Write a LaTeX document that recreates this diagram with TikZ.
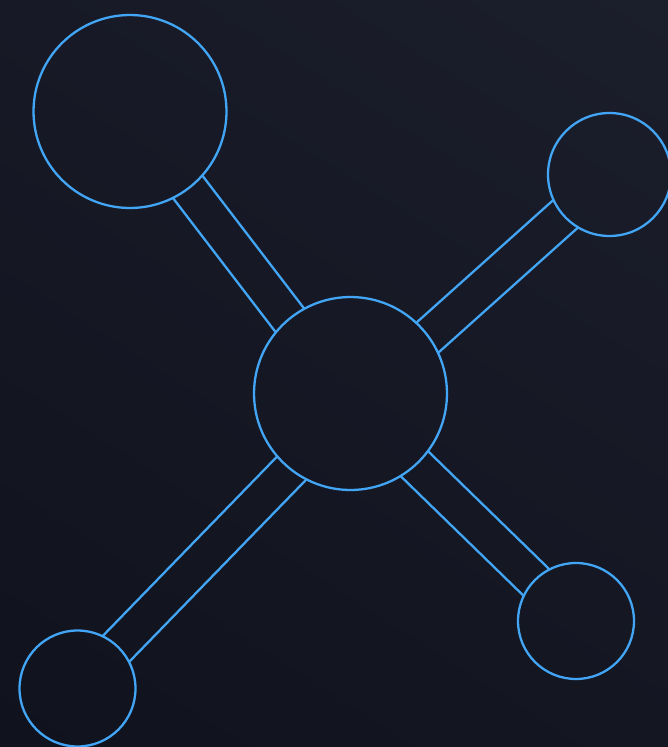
\documentclass[tikz,border=0pt]{standalone}
\usepackage{tikz}
\usetikzlibrary{calc,shadings}
\definecolor{bondblue}{HTML}{42A5F5}
\definecolor{bgUL}{HTML}{171A26}
\definecolor{bgUR}{HTML}{1B1E2B}
\definecolor{bgLL}{HTML}{10131D}
\definecolor{bgLR}{HTML}{141722}
\pgfdeclarelayer{bg}\pgfdeclarelayer{bonds}
\pgfsetlayers{bg,bonds,main}
\begin{document}
\begin{tikzpicture}[x=0.02cm,y=-0.02cm,
 atom/.style={circle,draw=bondblue,line width=1.3pt,inner sep=0pt,outer sep=0pt},
 bond/.style={draw=bondblue,line width=1.3pt}]
\useasboundingbox (0,0) rectangle (668,747);
\begin{pgfonlayer}{bg}
\shade[upper left=bgUL,upper right=bgUR,lower left=bgLL,lower right=bgLR] (0,0) rectangle (668,747);
\end{pgfonlayer}
\node[atom,minimum size=3.86cm](hub) at (350.5,393.5){};
\node[atom,minimum size=3.86cm](tl) at (130,111.5){};
\node[atom,minimum size=2.46cm](tr) at (609.5,174.5){};
\node[atom,minimum size=2.32cm](br) at (576,621){};
\node[atom,minimum size=2.32cm](bl) at (77.5,688.5){};
\begin{pgfonlayer}{bonds}
\begin{scope}[even odd rule]
% bonds stop at the circle rims
\clip(-20,-20) rectangle (700,770)
 (hub) circle[radius=96.5] (tl) circle[radius=96.5] (tr) circle[radius=61.5]
 (br) circle[radius=58] (bl) circle[radius=58];
\foreach \leaf/\dy in {tl/6,tr/13,br/8,bl/14}
 {\coordinate(aim) at ($(hub)+(0,\dy)$);
  \draw[bond]($(\leaf)!0.37cm!90:(aim)$)--($(aim)!0.37cm!-90:(\leaf)$)
   ($(\leaf)!0.37cm!-90:(aim)$)--($(aim)!0.37cm!90:(\leaf)$);}
\end{scope}
\end{pgfonlayer}
\end{tikzpicture}
\end{document}
